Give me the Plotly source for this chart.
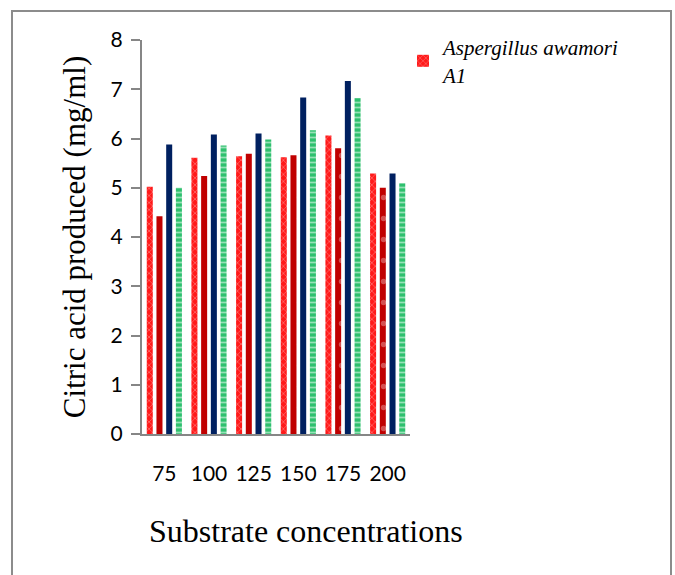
import plotly.graph_objects as go

categories = ["75", "100", "125", "150", "175", "200"]
series_names = ["Aspergillus awamori A1", "Aspergillus awamori A2", "Aspergillus awamori A3", "Aspergillus awamori A4"]
s1 = [5.02, 5.61, 5.64, 5.62, 6.06, 5.29]
s2 = [4.42, 5.24, 5.69, 5.66, 5.80, 5.00]
s3 = [5.88, 6.08, 6.10, 6.83, 7.17, 5.29]
s4 = [5.00, 5.86, 5.98, 6.17, 6.82, 5.09]
x_title = "Substrate concentrations"
y_title = "Citric acid produced (mg/ml)"

W, H = 675, 575
L, R, T, B = 142, 265, 40, 141
pw, ph = W - L - R, H - T - B

def px2paper_x(px):
    return (px - L) / pw

def px2paper_y(py):
    return (H - B - py) / ph

fig = go.Figure()
fig.add_trace(go.Bar(
    x=categories, y=s1, name="<i>Aspergillus awamori</i><br><i>A1</i>",
    marker=dict(color="#FF1A1A", line=dict(width=0),
                pattern=dict(shape="x", fgcolor="#FFB0B0", bgcolor="#FF1A1A", size=5, solidity=0.3)),
    showlegend=True))
fig.add_trace(go.Bar(
    x=categories, y=s2, name=series_names[1],
    marker=dict(color="#C00000", line=dict(width=0),
                pattern=dict(shape=".", fgcolor="#E8A0A0", bgcolor="#C00000", size=21, solidity=0.05)),
    showlegend=False))
fig.add_trace(go.Bar(
    x=categories, y=s3, name=series_names[2],
    marker=dict(color="#002060", line=dict(width=0)),
    showlegend=False))
fig.add_trace(go.Bar(
    x=categories, y=s4, name=series_names[3],
    marker=dict(color="#2EC06E", line=dict(width=0),
                pattern=dict(shape="-", fgcolor="#FFFFFF", bgcolor="#2EC06E", size=5, solidity=0.35)),
    showlegend=False))

fig.update_layout(
    width=W, height=H,
    margin=dict(l=L, r=R, t=T, b=B),
    paper_bgcolor="white", plot_bgcolor="white",
    barmode="group", bargap=0.13, bargroupgap=0.38,
    font=dict(family="Lato, Open Sans, sans-serif", color="black"),
    xaxis=dict(
        showline=True, linecolor="#868686", linewidth=2,
        ticks="", showgrid=False,
        tickfont=dict(size=21, family="Lato, sans-serif"),
        ticklabelstandoff=20,
    ),
    yaxis=dict(
        range=[0, 8], dtick=1,
        showline=True, linecolor="#868686", linewidth=2,
        ticks="outside", ticklen=9, tickcolor="#868686", tickwidth=1.5,
        showgrid=False, zeroline=False,
        tickfont=dict(size=21, family="Lato, sans-serif"),
        ticklabelstandoff=4,
        title=dict(text=y_title,
                   font=dict(family="Liberation Serif, Times New Roman, serif", size=31),
                   standoff=16),
    ),
    legend=dict(
        x=px2paper_x(403), y=px2paper_y(27), xanchor="left", yanchor="top",
        font=dict(family="Liberation Serif, Times New Roman, serif", size=21),
        bgcolor="rgba(0,0,0,0)", itemwidth=30, tracegroupgap=0,
    ),
    annotations=[dict(
        text=x_title, xref="paper", yref="paper",
        x=px2paper_x(306), y=px2paper_y(531), xanchor="center", yanchor="middle",
        showarrow=False,
        font=dict(family="Liberation Serif, Times New Roman, serif", size=32, color="black"))],
    shapes=[dict(
        type="rect", xref="paper", yref="paper",
        x0=px2paper_x(12), x1=px2paper_x(671),
        y0=px2paper_y(590), y1=px2paper_y(11),
        line=dict(color="#8C8C8C", width=2), fillcolor="rgba(0,0,0,0)", layer="below")],
)

fig.write_html("out.html")
